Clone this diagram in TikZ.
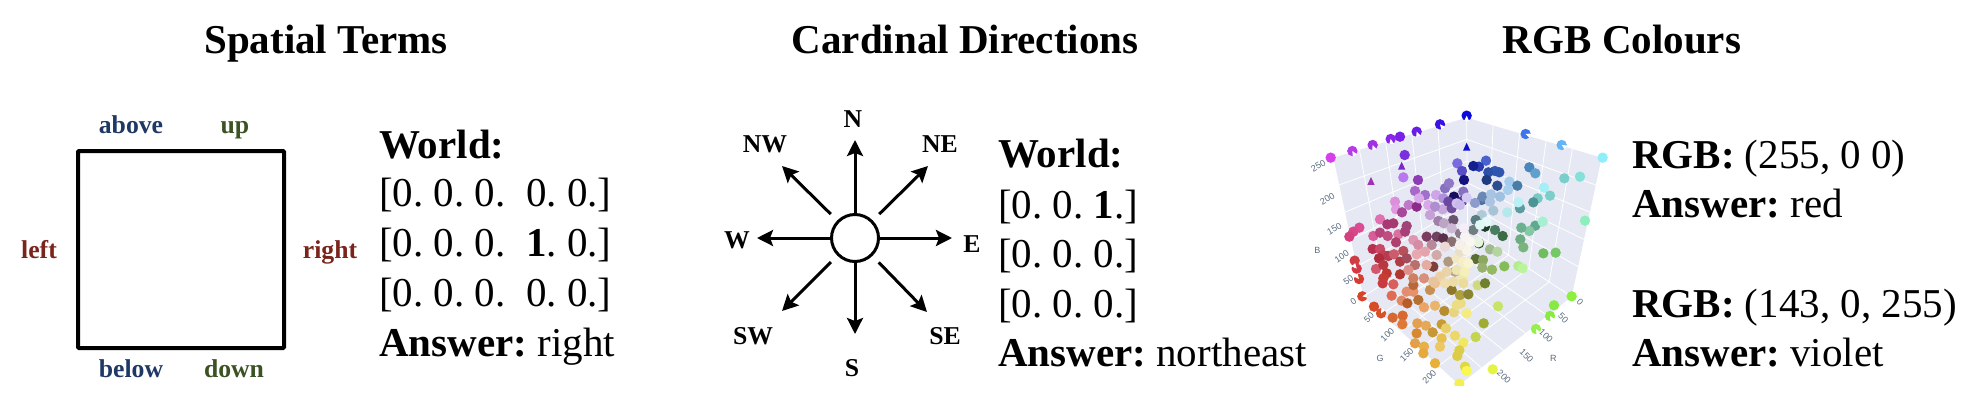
\documentclass[tikz,border=0pt]{standalone}
\usepackage{fontspec}
\setmainfont{Liberation Serif}
\newfontfamily\ticksfont{Liberation Sans}
\usetikzlibrary{arrows.meta,calc}
\definecolor{pane}{HTML}{E6E9F3}
\definecolor{ticktext}{HTML}{5A6A80}
\definecolor{bluelabel}{HTML}{1F3864}
\definecolor{greenlabel}{HTML}{3B5323}
\definecolor{redlabel}{HTML}{7B241C}
\tikzset{
  heading/.style={anchor=base,inner sep=0pt,font=\fontsize{41}{48}\selectfont\bfseries},
  line/.style={anchor=base west,inner sep=0pt,font=\fontsize{41}{50}\selectfont\frenchspacing},
  term/.style={anchor=base,inner sep=0pt,font=\fontsize{25.7}{30}\selectfont\bfseries},
  ticklabel/.style={inner sep=0pt,text=ticktext,font=\ticksfont\fontsize{9}{11}\selectfont},
  frame/.style={draw=black,line width=4pt,rounded corners=1pt},
  hubcircle/.style={circle,draw=black,line width=3pt,minimum size=47pt,inner sep=0pt},
  spoke/.style={draw=black,line width=3pt,-{Stealth[length=16pt,width=16pt,inset=3pt]}},
  gridline/.style={draw=white,line width=0.8pt}
}
\begin{document}
\begin{tikzpicture}[x=1pt,y=-1pt]
  \useasboundingbox (0,0) rectangle (1986,400);

  % headings
  \node[heading] (title1) at (326,53)  {Spatial Terms};
  \node[heading] (title2) at (965,53)  {Cardinal Directions};
  \node[heading] (title3) at (1622,53) {RGB Colours};

  % spatial terms
  \node[frame,minimum width=206pt,minimum height=197pt,inner sep=0pt] (square) at (181,249.5) {};
  \node[term,text=bluelabel]  (above) at (131,133) {above};
  \node[term,text=greenlabel] (up)    at (235,133) {up};
  \node[term,text=redlabel]   (left)  at (39,258)  {left};
  \node[term,text=redlabel]   (right) at (330,258) {right};
  \node[term,text=bluelabel]  (below) at (131,377) {below};
  \node[term,text=greenlabel] (down)  at (234,377) {down};

  \node[line] (worldA) at (379,158) {\textbf{World:}};
  \node[line] (rowA1)  at (379,206) {[0. 0. 0.\ \ 0. 0.]};
  \node[line] (rowA2)  at (379,256) {[0. 0. 0.\ \ \textbf{1}. 0.]};
  \node[line] (rowA3)  at (379,306) {[0. 0. 0.\ \ 0. 0.]};
  \node[line] (ansA)   at (379,356) {\textbf{Answer:} right};

  % compass
  \node[hubcircle] (hub) at (855,238) {};
  \coordinate (tipN)  at (855,140);
  \coordinate (tipS)  at (855,334);
  \coordinate (tipE)  at (952,238);
  \coordinate (tipW)  at (757,238);
  \coordinate (tipNE) at (928,166);
  \coordinate (tipNW) at (782,166);
  \coordinate (tipSE) at (927,312);
  \coordinate (tipSW) at (782,311);
  \foreach \d in {N,S,E,W}
    \draw[spoke] (hub) -- (tip\d);
  \foreach \d in {NE,NW,SE,SW}
    \draw[spoke,shorten <=9pt] (hub) -- (tip\d);
  \node[term] (labN)  at (853,127) {N};
  \node[term] (labNE) at (940,152) {NE};
  \node[term] (labNW) at (765,152) {NW};
  \node[term] (labW)  at (737,248) {W};
  \node[term] (labE)  at (972,252) {E};
  \node[term] (labSW) at (753,344) {SW};
  \node[term] (labSE) at (945,344) {SE};
  \node[term] (labS)  at (852,376) {S};

  \node[line] (worldB) at (998,167) {\textbf{World:}};
  \node[line] (rowB1)  at (998,218) {[0. 0. \textbf{1}.]};
  \node[line] (rowB2)  at (998,267) {[0. 0. 0.]};
  \node[line] (rowB3)  at (998,317) {[0. 0. 0.]};
  \node[line] (ansB)   at (998,366) {\textbf{Answer:} northeast};

  % rgb text
  \node[line] (rgbC1) at (1632,168) {\textbf{RGB:} (255, 0 0)};
  \node[line] (ansC1) at (1632,217) {\textbf{Answer:} red};
  \node[line] (rgbC2) at (1632,317) {\textbf{RGB:} (143, 0, 255)};
  \node[line] (ansC2) at (1632,366) {\textbf{Answer:} violet};

  % rgb cube, in units of a third of a pixel
  \begin{scope}[shift={(1300,95)},x=0.3333pt,y=-0.3333pt]
    \coordinate (LT) at (100,188);
    \coordinate (BT) at (500,68);
    \coordinate (RT) at (905,188);
    \coordinate (LB) at (190,605);
    \coordinate (BB) at (503,400);
    \coordinate (RB) at (815,605);
    \coordinate (NB) at (478,870);
    \fill[pane] (LT) -- (BT) -- (RT) -- (RB) -- (NB) -- (LB) -- cycle;
    \foreach \t in {0.196,0.392,0.588,0.784} {
      \draw[gridline] ($(LT)!\t!(BT)$) -- ($(LB)!\t!(BB)$);
      \draw[gridline] ($(LT)!\t!(LB)$) -- ($(BT)!\t!(BB)$);
      \draw[gridline] ($(BT)!\t!(RT)$) -- ($(BB)!\t!(RB)$);
      \draw[gridline] ($(BT)!\t!(BB)$) -- ($(RT)!\t!(RB)$);
      \draw[gridline] ($(LB)!\t!(BB)$) -- ($(NB)!\t!(RB)$);
      \draw[gridline] ($(LB)!\t!(NB)$) -- ($(BB)!\t!(RB)$);
    }
    \draw[gridline] (LB) -- (BB) -- (RB) (BT) -- (BB);
    \foreach \x/\y/\r/\t [count=\i] in {
      55/212/30/250,82/312/30/200,103/402/30/150,125/485/35/100,145/555/35/50,160/620/35/0,
      207/668/45/50,262/720/45/100,320/780/45/150,388/845/45/200,
      840/620/-45/0,790/670/-45/50,738/722/-45/100,680/782/-45/150,612/845/-45/200,
      52/467/0/B,240/790/0/G,760/790/0/R}
      \node[ticklabel,rotate=\r] (tick\i) at (\x,\y) {\t};
    \begin{scope}
      \clip (0,0) rectangle (960,872);
      \foreach \x/\y/\c in {
        92/188/D63FEA,157/168/B53BE8,218/150/A030E0,272/132/8A25EA,300/125/7A20E8,350/110/6A1CE8,
        420/88/3A12E6,500/62/0A0AE0,677/117/3E74EA,785/150/64B4F5,908/188/8EEFFB,
        314/180/7A30DC,310/247/B878EE,354/255/8E3CB4,472/205/7A6CDE,486/228/5A4CC4,492/255/14107E,
        558/197/4A62D0,537/215/2A3CB0,520/213/14208E,585/228/3058B4,598/232/2F55AE,565/232/2A50A8,
        688/217/4A86BE,706/235/60A0CC,560/255/1E3A80,592/272/2C4E90,628/260/A0CCF0,652/272/4A7CA8,
        624/285/A8CEEE,793/250/7ACFCC,840/245/84E0D8,732/278/A4EEF6,750/302/7CCFC8,713/310/78C8C4,
        700/322/4E9494,660/340/5A9CA0,655/322/B8F0F4,622/352/B4E8EA,855/377/8CEFBC,
        706/392/60A890,728/380/A4F0D0,688/408/84C8A4,664/398/6CB090,661/433/6CAC80,670/457/78B47C,
        730/475/70BC60,767/473/74C866,613/514/84BC58,655/513/B4EC90,668/520/BCF49C,
        762/631/88E844,815/604/8CF040,750/663/88EC40,708/702/96F04C,
        594/634/C8E468,551/685/A0AC34,527/726/C4D450,578/823/E4F444,495/815/E0D840,500/828/F8F850,478/866/F4F050,
        187/604/D84428,177/552/D83C30,170/521/D43844,164/497/D03C44,222/635/D84C28,243/655/D85028,
        278/668/D86830,308/662/D86830,307/688/E07838,350/715/D88830,345/745/E4A048,372/755/E8B048,370/775/E8A840,
        405/805/E8B038,352/685/E4A050,378/692/E4A858,398/712/C89838,425/688/C89C34,438/700/E8D068,425/730/E8C050,
        420/755/ECC860,465/722/ECD868,490/743/F0E860,478/766/DCCC48,472/783/DCCC48,
        178/398/DC4C94,160/410/D84888,148/425/D44080,240/373/E070B0,220/423/D85C98,240/413/B8447C,263/423/C04C80,
        262/388/A83874,280/385/A83870,295/418/DA70A0,288/442/B0406C,320/393/A04478,315/410/A84078,
        218/462/B83050,240/462/CC4868,250/480/C04058,265/483/B83C50,237/490/B02C3C,228/522/D4566C,250/510/B83840,
        282/478/CC5C6C,310/468/B8505C,300/500/B03C44,300/538/B03830,260/535/C03830,250/550/C83C34,248/565/C83C40,
        280/568/D8605C,275/602/E06C54,320/590/E48C70,340/590/E89068,305/617/E08860,322/625/B85C28,355/615/B87030,
        340/570/B86838,340/550/CC8060,372/550/D8907C,372/637/EAA468,405/632/EAB46C,390/585/C89050,405/565/ECC090,
        433/648/B88C30,462/652/E8D480,470/630/ECDC84,482/625/ECDC84,455/585/8C7828,480/600/ACA040,505/598/888430,
        500/655/F4EC80,533/571/D0D880,555/565/70802C,
        285/320/DC90DC,288/343/E098E0,306/352/A84898,326/330/C078C8,350/335/8A2C88,345/288/A868C8,375/300/A070CC,
        357/310/DCA8EC,385/330/D8A8E8,408/300/D0A4E8,430/310/B090D8,435/280/8870C0,447/265/9078C8,390/360/C8A0D8,
        428/343/C8A8DC,405/335/B08CD0,455/340/70509C,490/290/8870C0,462/305/180E60,445/320/6A48A0,487/318/4C3C90,
        470/325/D0C0F0,480/330/C8B8EC,500/308/D4C8F4,545/315/5070A0,525/324/8E9CCC,548/305/6A88B4,573/298/A8C4E4,
        600/305/A0C0E0,570/320/ACC4E4,580/347/A8C4D4,545/360/B0CAD8,
        608/423/3C6C44,585/405/4A7C60,555/395/1E3C28,527/375/5A7C80,520/405/707E80,537/445/2A4420,
        570/463/A0BC8C,592/470/B4D4A0,527/492/5A6E34,549/495/8CA860,547/518/98B070,576/524/94B864,
        560/380/E4FAFA,540/390/E0F8F4,535/442/E8F4E0,
        380/425/7C3C60,410/425/704060,430/430/5C3048,415/378/A080A8,432/385/BCA4C4,460/375/6A5470,455/400/CCB8D4,
        480/415/8A7C88,455/440/8C7070,395/450/B88898,340/435/DE96B0,355/450/D48CA4,350/478/E8A8B0,375/470/E4A4AC,
        320/490/A44C5C,345/510/B8706C,325/525/DE9088,400/515/7E4038,380/510/E6AAA0,410/480/D4A8A4,435/455/ECD8D4,
        445/500/B09880,465/530/B8A888,440/530/E8D4A8,420/545/ECD0A4,400/560/E8C49C,435/565/F0DCAC,460/560/EEDCA8,
        470/525/EEE4B0,487/550/F0E6B0,490/565/ECDC9C,495/530/F4F0B8,470/490/F2E8C4,490/500/F6EEC4,505/505/F8F4D0,
        480/470/E8E0C8,500/465/F8F4E8,480/450/F6F0E8,510/440/FAF6F0,495/425/F8F4F4,492/400/F4EEF8}
      {
        \definecolor{dotcolor}{HTML}{\c}
        \fill[dotcolor] (\x,\y) circle[radius=5.2pt];
      }
      % glyphs seen as cones
      \foreach \x/\y/\c in {500/155/1010D0,213/258/A030B8,305/212/7A28C8}
      {
        \definecolor{dotcolor}{HTML}{\c}
        \fill[dotcolor] (\x,\y-12) -- (\x+11,\y+12) -- (\x-11,\y+12) -- cycle;
      }
      % bites out of the outer dots
      \foreach \x/\y/\a in {157/168/60,218/150/70,272/132/80,350/110/70,420/88/50,500/62/90,
        677/117/20,785/150/30,750/663/60,708/702/60,187/604/-10,177/552/-130,170/521/-130,243/655/-60}
        \fill[white] (\x,\y) -- ++(\a-25:17) -- ++(\a+90:14.4) -- cycle;
    \end{scope}
  \end{scope}
\end{tikzpicture}
\end{document}
